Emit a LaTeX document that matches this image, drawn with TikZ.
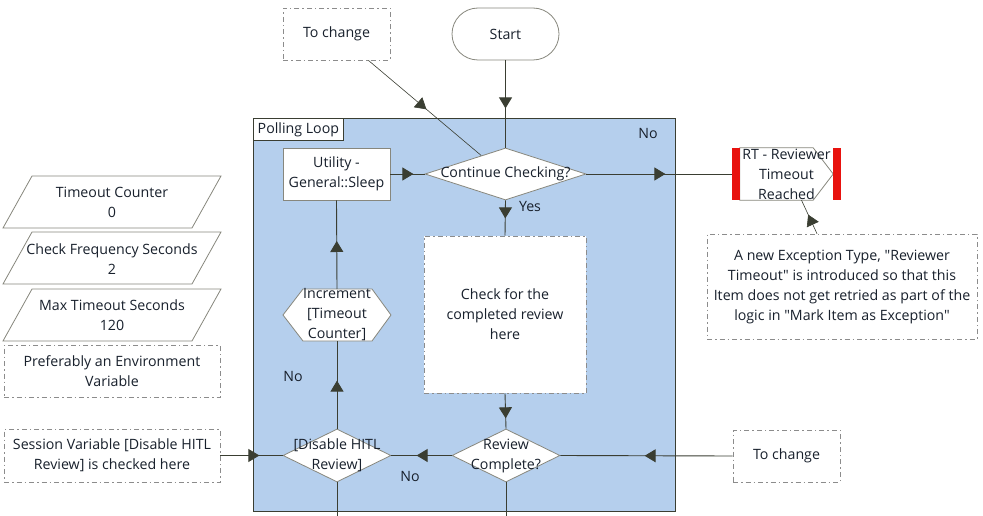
\documentclass[tikz,border=0pt]{standalone}
\usepackage{fontspec}
\setmainfont{Open Sans}[Ligatures=TeXOff]
\usetikzlibrary{shapes.geometric,arrows.meta,decorations.markings,calc}
\definecolor{loopfill}{RGB}{181,207,237}
\definecolor{linec}{RGB}{58,62,50}
\definecolor{txtc}{RGB}{24,32,44}
\definecolor{shapec}{RGB}{135,135,125}
\definecolor{notec}{RGB}{140,140,140}
\definecolor{rtred}{RGB}{232,18,14}
\newcommand\dfont{\fontsize{14.2}{20}\selectfont}
\begin{document}
\begin{tikzpicture}[x=1pt,y=-1pt,
  every node/.style={font=\dfont, text=txtc, align=center, inner sep=0pt},
  shp/.style={draw=shapec, fill=white, line width=0.8pt},
  notebox/.style={draw=notec, fill=white, line width=0.7pt, dash pattern=on 5pt off 3pt on 1.5pt off 3pt},
  conn/.style={draw=linec, color=linec, line width=0.9pt},
  ma/.style={postaction={decorate, decoration={markings, mark=at position #1 with {\arrow{Triangle[length=11pt,width=13pt]}}}}},
]
\useasboundingbox (0,0) rectangle (983,516);

% container
\node[draw=linec, fill=loopfill, line width=0.9pt, minimum width=422pt, minimum height=393pt] (loop) at (464,314.5) {};
\node[draw=linec, fill=white, line width=0.8pt, anchor=north west, minimum width=90pt, minimum height=22pt] (looplbl) at (253,118) {Polling Loop};
\node (no1) at (648,134) {No};

% top nodes
\node[notebox, minimum width=107pt, minimum height=52pt] (tc1) at (336.5,34) {To change};
\node[shp, rounded corners=26pt, minimum width=107pt, minimum height=52pt] (start) at (505.5,34) {Start};

% Continue checking
\node[shp, diamond, minimum width=161pt, minimum height=52pt] (cc) at (505.5,174) {};
\node (cct) at (cc.center) {Continue Checking?};
\node (yes) at (530,207) {Yes};

% Utility
\node[shp, minimum width=107pt, minimum height=52pt] (util) at (336.5,174) {Utility -\\General::Sleep};

% RT
\node[minimum width=109pt, minimum height=52pt] (rt) at (786.5,174) {};
\draw[shp] ([xshift=8pt]rt.north west) -- ([xshift=-28pt]rt.north east) -- ([xshift=-8pt]rt.east) -- ([xshift=-28pt]rt.south east) -- ([xshift=8pt]rt.south west) -- cycle;
\fill[rtred] (rt.north west) rectangle ([xshift=8pt]rt.south west);
\fill[rtred] ([xshift=-8pt]rt.north east) rectangle (rt.south east);
\node (rtt) at (rt.center) {RT - Reviewer\\Timeout\\Reached};

% exception note
\node[notebox, minimum width=270pt, minimum height=105pt] (exnote) at (842,286.5) {A new Exception Type, "Reviewer\\Timeout" is introduced so that this\\Item does not get retried as part of the\\logic in "Mark Item as Exception"};

% check box
\node[notebox, minimum width=162pt, minimum height=157pt] (chk) at (505,314.5) {Check for the\\completed review\\here};

% increment hexagon
\coordinate (incrc) at (337,315);
\draw[shp] ($(incrc)+(-54,0)$) -- ($(incrc)+(-34,-26)$) -- ($(incrc)+(35,-26)$) -- ($(incrc)+(54,0)$) -- ($(incrc)+(35,26)$) -- ($(incrc)+(-34,26)$) -- cycle;
\node[minimum width=108pt, minimum height=52pt] (incr) at (incrc) {Increment\\{[Timeout}\\Counter]};
\node (no2) at (293,376) {No};

% bottom diamonds
\node[shp, diamond, minimum width=108pt, minimum height=53pt] (dis) at (337,455.5) {};
\node (dist) at (dis.center) {{[Disable HITL}\\Review]};
\node[shp, diamond, minimum width=108pt, minimum height=53pt] (rc) at (506,455.5) {};
\node (rct) at (rc.center) {Review\\Complete?};
\node (no3) at (410,476) {No};

% right bottom note
\node[notebox, minimum width=107pt, minimum height=52pt] (tc2) at (786.5,456) {To change};

% left variables
\draw[draw=shapec, fill=white, line width=0.8pt] (32,176) -- (221,176) -- (192,228) -- (3,228) -- cycle;
\node (vtc) at (112,202) {Timeout Counter\\0};
\draw[draw=shapec, fill=white, line width=0.8pt] (32,232) -- (221,232) -- (192,284) -- (3,284) -- cycle;
\node (vcf) at (112,259) {Check Frequency Seconds\\2};
\draw[draw=shapec, fill=white, line width=0.8pt] (32,289) -- (221,289) -- (192,341) -- (3,341) -- cycle;
\node (vmt) at (112,315) {Max Timeout Seconds\\120};
\node[notebox, minimum width=216pt, minimum height=52pt] (pref) at (112,371) {Preferably an Environment\\Variable};
\node[notebox, minimum width=216pt, minimum height=53pt] (sess) at (112,455.5) {Session Variable [Disable HITL\\Review] is checked here};

% out coordinates
\coordinate (disout) at (337,516);
\coordinate (rcout) at (506,516);

% connectors
\draw[conn, ma=48pt] (start.south) -- (cc.north);
\draw[conn, ma=76pt, line width=0.6pt] ([xshift=-22pt]tc1.south east) -- ($(cc.north west)!0.4!(cc.north)$);
\draw[conn, ma=23pt] (util.east) -- (cc.west);
\draw[conn, ma=79pt] (cc.east) -- (rt.west);
\draw[conn, ma=18pt] (cc.south) -- (chk.north);
\draw[conn, ma=25pt] (chk.south) -- (rc.north);
\draw[conn, ma=88pt] (tc2.west) -- (rc.east);
\draw[conn, ma=35pt] (rc.west) -- (dis.east);
\draw[conn, ma=39pt] (sess.east) -- (dis.west);
\draw[conn, ma=48pt] (dis.north) -- ($(incrc)+(0,26)$);
\draw[conn, ma=48pt] ($(incrc)+(0,-26)$) -- (util.south);
\draw[conn] (dis.south) -- (disout);
\draw[conn] (rc.south) -- (rcout);
\draw[conn, ma=21pt, line width=0.6pt] ([xshift=-25pt]exnote.north) -- ([xshift=15pt]rt.south);
\end{tikzpicture}
\end{document}
